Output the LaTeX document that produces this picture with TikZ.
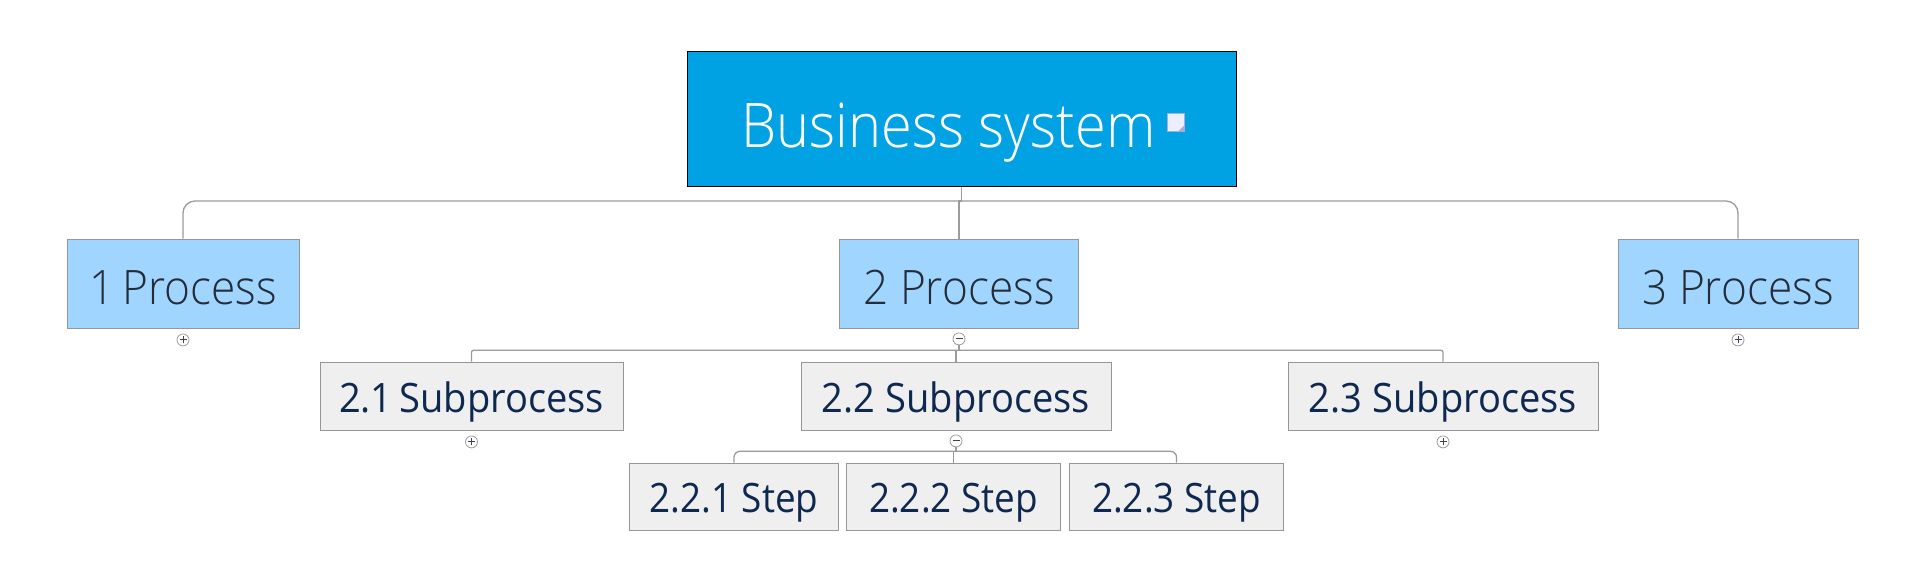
\documentclass[tikz,border=0pt]{standalone}
\usepackage{fontspec}
\setmainfont{Open Sans}
\newfontfamily\rootfont{Open Sans Light}[FakeStretch=0.91]
\newfontfamily\procfont{Open Sans Light}[FakeStretch=0.93]
\newfontfamily\subfont{Open Sans}[FakeStretch=0.94]
\newfontfamily\stepfont{Open Sans}[FakeStretch=0.91]
\usetikzlibrary{positioning, calc}

\definecolor{rootblue}{RGB}{0,162,228}
\definecolor{procblue}{RGB}{159,213,254}
\definecolor{subgray}{RGB}{239,239,239}
\definecolor{boxgray}{RGB}{150,150,150}
\definecolor{linkgray}{RGB}{155,155,155}
\definecolor{proctext}{RGB}{36,44,56}
\definecolor{subtext}{RGB}{14,40,80}
\definecolor{signc}{RGB}{60,64,90}
\definecolor{notefill}{RGB}{236,238,252}
\definecolor{noteedge}{RGB}{170,172,215}

\begin{document}
\begin{tikzpicture}[
        x=1pt, y=-1pt,
        box/.style={draw=boxgray, line width=1pt, inner sep=0pt, align=center, text depth=0pt},
        rootbox/.style={box, draw=black, fill=rootblue, text=white, minimum width=549pt, minimum height=135pt, text height=57pt, font=\rootfont\fontsize{61.5}{70}\selectfont},
        procbox/.style={box, fill=procblue, text=proctext, minimum height=89pt, text height=42pt, font=\procfont\fontsize{47.5}{56}\selectfont},
        subbox/.style={box, fill=subgray, text=subtext, minimum height=68pt, text height=32pt, font=\subfont\fontsize{40.5}{48}\selectfont},
        stepbox/.style={subbox, minimum height=67pt, font=\stepfont\fontsize{40.5}{48}\selectfont},
        link/.style={draw=linkgray, line width=1.3pt},
        expander/.style={circle, draw=linkgray, fill=white, line width=0.8pt, minimum size=12pt, inner sep=0pt},
        expandplus/.style={expander, path picture={
            \draw[signc, line width=1pt] ([xshift=-3.5pt]path picture bounding box.center) -- ([xshift=3.5pt]path picture bounding box.center)
                ([yshift=-3.5pt]path picture bounding box.center) -- ([yshift=3.5pt]path picture bounding box.center);}},
        expandminus/.style={expander, path picture={
            \draw[signc, line width=1pt] ([xshift=-3.5pt]path picture bounding box.center) -- ([xshift=3.5pt]path picture bounding box.center);}},
        noteicon/.style={rectangle, fill=notefill, draw=noteedge, line width=0.8pt, minimum width=17pt, minimum height=18pt, inner sep=0pt,
            path picture={\fill[noteedge] ([xshift=-6pt]path picture bounding box.south east) -- ([yshift=6pt]path picture bounding box.south east)
                -- (path picture bounding box.south east) -- cycle;}}
    ]
    \useasboundingbox (0,0) rectangle (1920,566);

    % Root
    \node[rootbox] (root) at (961.5,118.5) {Business system\hspace*{26pt}};
    \node[noteicon] (note) at ($(root.center)+(214.5,3.5)$) {};

    % Processes
    \node[procbox, minimum width=232pt] (p1) at (183,283.5) {1\,Process};
    \node[procbox, minimum width=239pt] (p2) at (959,283.5) {2 Process};
    \node[procbox, minimum width=240pt] (p3) at (1738,283.5) {3 Process};

    % Subprocesses
    \node[subbox, minimum width=303pt] (s1) at (471.5,396) {2.1\,Subprocess};
    \node[subbox, minimum width=310pt] (s2) at (956,396) {2.2 Subprocess};
    \node[subbox, minimum width=310pt] (s3) at (1443,396) {2.3 Subprocess};

    % Steps
    \node[stepbox, minimum width=209pt] (t1) at (734,496.5) {2.2.1 Step};
    \node[stepbox, minimum width=214pt, right=7pt of t1] (t2) {2.2.2 Step};
    \node[stepbox, minimum width=214pt, right=8pt of t2] (t3) {2.2.3 Step};

    % Expanders
    \node[expandplus, below=5pt of p1] (p1x) {};
    \node[expandminus, below=4pt of p2] (p2x) {};
    \node[expandplus, below=5pt of p3] (p3x) {};
    \node[expandplus, below=5pt of s1] (s1x) {};
    \node[expandminus, below=4pt of s2] (s2x) {};
    \node[expandplus, below=5pt of s3] (s3x) {};

    % Connectors, top level
    \coordinate (rj) at (root.south |- 0,201);
    \draw[link] (root.south) -- (rj);
    \draw[link, rounded corners=12pt] (p1.north) |- (rj) -| (p3.north);
    \draw[link] (p2.north) |- (rj);

    % Connectors, second level
    \coordinate (sj) at ($(p2x.south)+(0,5)$);
    \draw[link] (p2x.south) -- (sj);
    \draw[link, rounded corners=2pt] (s1.north) |- (sj) -| (s3.north);
    \draw[link] (s2.north) |- (sj);

    % Connectors, third level
    \coordinate (tj) at ($(s2x.south)+(0,4)$);
    \draw[link] (s2x.south) -- (tj);
    \draw[link, rounded corners=6pt] (t1.north) |- (tj) -| (t3.north);
    \draw[link] (t2.north) |- (tj);

\end{tikzpicture}
\end{document}
